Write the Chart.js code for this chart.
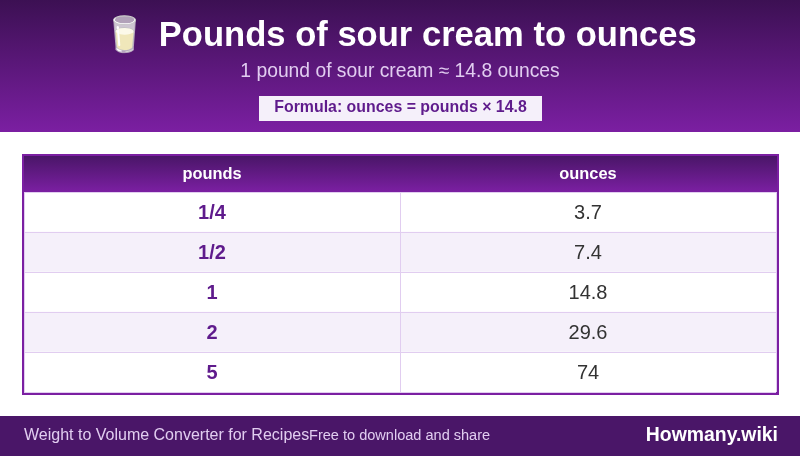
<!DOCTYPE html>
<html>
<head>
<meta charset="utf-8">
<title>Pounds of sour cream to ounces</title>
<script src="https://cdn.jsdelivr.net/npm/chart.js@4"></script>
<style>
  html, body { margin: 0; padding: 0; background: #fff; }
  canvas { display: block; }
</style>
</head>
<body>
<canvas id="chart" width="800" height="456"></canvas>
<script>
'use strict';

// ── Table data ──────────────────────────────────────────────────────────
var columns = ['pounds', 'ounces'];
var pounds  = ['1/4', '1/2', '1', '2', '5'];
var ounces  = [3.7, 7.4, 14.8, 29.6, 74];
var rowFill = [1, 1, 1, 1, 1];

var titleText    = '🥛 \u200APounds of sour cream to ounces';
var subtitleText = '1 pound of sour cream ≈ 14.8 ounces';
var formulaText  = 'Formula: ounces = pounds × 14.8';
var footerLeft   = 'Weight to Volume Converter for Recipes';
var footerMiddle = 'Free to download and share';
var footerRight  = 'Howmany.wiki';

var FONT = '"Liberation Sans", Arial, sans-serif';

function verticalGradient(ctx, y0, y1, from) {
  var g = ctx.createLinearGradient(0, y0, 0, y1);
  g.addColorStop(0, from);
  g.addColorStop(1, '#7b1fa2');
  return g;
}

// Banner, table frame and footer sit behind the chart
var chromePlugin = {
  id: 'chrome',
  beforeDraw: function (chart) {
    var ctx = chart.ctx;
    ctx.save();
    ctx.fillStyle = '#ffffff';
    ctx.fillRect(0, 0, 800, 456);

    ctx.fillStyle = verticalGradient(ctx, 0, 132, '#3c1053');
    ctx.fillRect(0, 0, 800, 132);

    ctx.fillStyle = '#f5f0fa';
    ctx.fillRect(259, 96, 283, 25);
    ctx.fillStyle = '#5f1b8c';
    ctx.font = 'bold 15.9px ' + FONT;
    ctx.textAlign = 'center';
    ctx.textBaseline = 'middle';
    ctx.fillText(formulaText, 400.5, 108);

    // table frame and header band
    ctx.fillStyle = '#7b1fa2';
    ctx.fillRect(22, 154, 757, 241);
    ctx.fillStyle = verticalGradient(ctx, 156, 192, '#4a1668');
    ctx.fillRect(24, 156, 753, 36);

    ctx.fillStyle = '#4a1668';
    ctx.fillRect(0, 416, 800, 40);
    ctx.textAlign = 'left';
    ctx.fillStyle = '#e1cdf0';
    ctx.font = '16px ' + FONT;
    ctx.fillText(footerLeft, 24, 436);
    ctx.font = '14.56px ' + FONT;
    ctx.fillText(footerMiddle, 309, 436);
    ctx.textAlign = 'right';
    ctx.fillStyle = '#ffffff';
    ctx.font = 'bold 19.4px ' + FONT;
    ctx.fillText(footerRight, 778, 436);
    ctx.restore();
  }
};

// Cell text, placed through the chart's own scales
var cellPlugin = {
  id: 'cells',
  afterDraw: function (chart) {
    var ctx = chart.ctx;
    var x = chart.scales.x;
    var y = chart.scales.y;
    ctx.save();
    ctx.textAlign = 'center';
    ctx.textBaseline = 'middle';
    pounds.forEach(function (label, i) {
      var py = y.getPixelForValue(i) + 1.5;
      ctx.font = 'bold 20px ' + FONT;
      ctx.fillStyle = '#5f1b8c';
      ctx.fillText(label, x.getPixelForValue(0), py);
      ctx.font = '20px ' + FONT;
      ctx.fillStyle = '#333333';
      ctx.fillText(String(ounces[i]), x.getPixelForValue(1), py);
    });
    ctx.restore();
  }
};

new Chart(document.getElementById('chart'), {
  type: 'bar',
  plugins: [chromePlugin, cellPlugin],
  data: {
    labels: pounds,
    datasets: [{
      data: rowFill,
      xAxisID: 'band',
      yAxisID: 'y',
      barPercentage: 1,
      categoryPercentage: 1,
      borderWidth: 0,
      backgroundColor: function (c) { return c.dataIndex % 2 ? '#f5f0fa' : '#ffffff'; }
    }]
  },
  options: {
    indexAxis: 'y',
    responsive: false,
    animation: false,
    layout: { padding: { left: 24, right: 24, top: 0, bottom: 64 } },
    plugins: {
      legend: { display: false },
      tooltip: { enabled: false },
      title: {
        display: true,
        text: titleText,
        color: '#ffffff',
        font: { family: FONT, size: 34.6, weight: 'bold', lineHeight: 1 },
        padding: { top: 19, bottom: 8 }
      },
      subtitle: {
        display: true,
        text: subtitleText,
        color: '#e1cdf0',
        font: { family: FONT, size: 19.3, weight: 'normal', lineHeight: 1 },
        padding: { top: 0, bottom: 75.1 }
      }
    },
    scales: {
      band: {
        type: 'linear',
        axis: 'x',
        display: false,
        min: 0,
        max: 1
      },
      x: {
        type: 'category',
        axis: 'x',
        position: 'top',
        labels: columns,
        offset: true,
        afterFit: function (s) { s.height = 36; },
        border: { display: false },
        grid: { offset: true, drawTicks: false, color: '#e1cdf0', z: 1 },
        ticks: {
          color: '#ffffff',
          maxRotation: 0,
          padding: 8,
          font: { family: FONT, size: 16.4, weight: 'bold' }
        }
      },
      y: {
        type: 'category',
        offset: true,
        border: { display: false },
        grid: { offset: true, drawTicks: false, color: '#e1cdf0', z: 1 },
        ticks: { display: false },
        afterFit: function (s) { s.width = 0; }
      }
    }
  }
});
</script>
</body>
</html>
